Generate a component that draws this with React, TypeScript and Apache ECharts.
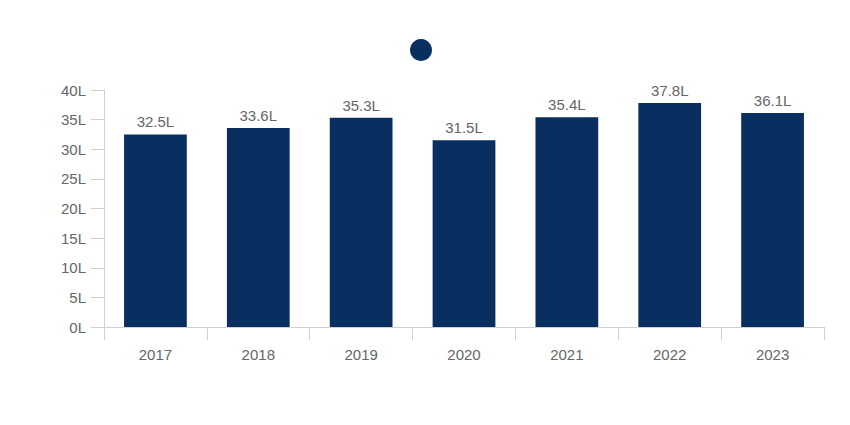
import React, { useEffect, useRef } from "react";
import * as echarts from "echarts";

const categories = ["2017", "2018", "2019", "2020", "2021", "2022", "2023"];
const values = [32.5, 33.6, 35.3, 31.5, 35.4, 37.8, 36.1];
const seriesName = " ";

export default function App() {
  const ref = useRef<HTMLDivElement>(null);
  useEffect(() => {
    const chart = echarts.init(ref.current!, null, { renderer: "svg" });
    const font = "Liberation Sans, Arial, sans-serif";
    chart.setOption({
      animation: false,
      legend: {
        data: [{ name: seriesName, icon: "circle" }],
        top: 26,
        left: 397,
        itemWidth: 22,
        itemHeight: 22,
        itemGap: 0,
        formatter: () => "",
      },
      grid: { left: 96, right: 34, top: 82, bottom: 106 },
      xAxis: {
        type: "category",
        data: categories,
        axisLine: { show: true, lineStyle: { color: "#d0d0d0" } },
        axisTick: { show: true, length: 13, lineStyle: { color: "#d0d0d0" } },
        axisLabel: { color: "#666", fontSize: 15, fontFamily: font, margin: 20 },
      },
      yAxis: {
        type: "value",
        min: 0,
        max: 40,
        interval: 5,
        axisLine: { show: true, lineStyle: { color: "#d0d0d0" } },
        axisTick: { show: true, length: 13, lineStyle: { color: "#d0d0d0" } },
        splitLine: { show: false },
        axisLabel: {
          color: "#666",
          fontSize: 15,
          fontFamily: font,
          margin: 18,
          formatter: (v: number) => v + "L",
        },
      },
      series: [
        {
          name: seriesName,
          type: "bar",
          data: values,
          barWidth: "61%",
          itemStyle: { color: "#082f5f" },
          label: {
            show: true,
            position: "top",
            distance: 5,
            color: "#666",
            fontSize: 15,
            fontFamily: font,
            formatter: (p: any) => p.value + "L",
          },
        },
      ],
    });
    return () => chart.dispose();
  }, []);
  return <div ref={ref} style={{ width: 850, height: 425 }} />;
}
